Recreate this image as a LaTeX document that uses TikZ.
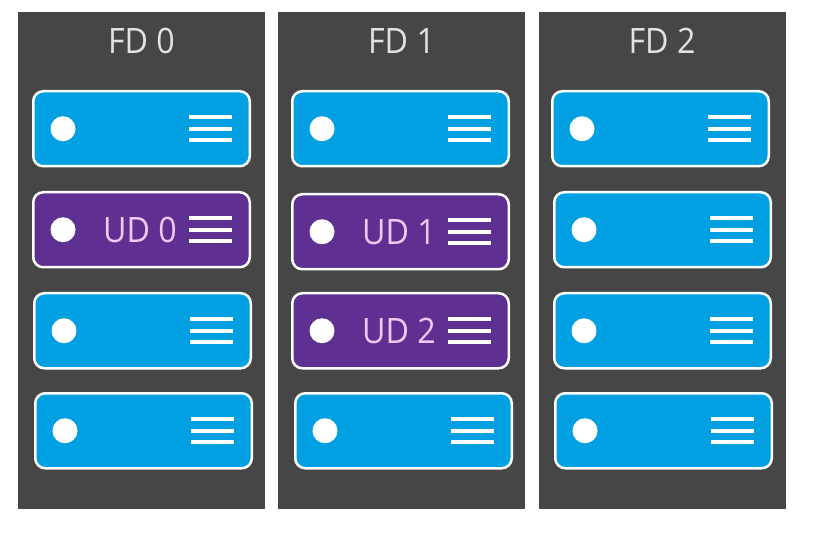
\documentclass[tikz,border=0pt]{standalone}
\usepackage{fontspec}
\setmainfont{Open Sans}
\newfontfamily\fdfont[FakeStretch=0.92]{Open Sans}
\usepackage{tikz}
\usetikzlibrary{positioning}

\definecolor{rackgray}{RGB}{70,70,70}
\definecolor{srvblue}{RGB}{0,160,226}
\definecolor{srvpurple}{RGB}{93,48,145}
\definecolor{udpink}{RGB}{240,200,240}
\definecolor{fdgray}{RGB}{226,226,226}

\tikzset{
  rack/.style={fill=rackgray, minimum width=247pt, minimum height=497pt, inner sep=0pt},
  fdtitle/.style={text=fdgray, inner sep=0pt, font=\fdfont\fontsize{35}{35}\selectfont},
  srvbox/.style={draw=white, line width=2.5pt, rounded corners=10pt, fill=#1,
    minimum width=216.5pt, minimum height=75pt, inner sep=0pt, anchor=north west},
  led/.style={circle, fill=white, minimum size=25pt, inner sep=0pt},
  bars/.style={draw=white, line width=4pt},
  udlabel/.style={text=udpink, inner sep=0pt, font=\fdfont\fontsize{35}{35}\selectfont}
}

% one server: name, x, y (top left), fill, label
\newcommand{\srv}[5]{%
  \node[srvbox=#4] (#1) at (#2,#3) {};
  \node[led] (#1-led) at ([xshift=31pt]#1.west) {};
  \node[udlabel] (#1-ud) at ([xshift=108pt]#1.west) {#5};
  \foreach \dy in {12,0,-11}
    \draw[bars] ([xshift=157pt,yshift=\dy pt]#1.west) -- ++(43pt,0);
}

\begin{document}
\begin{tikzpicture}[x=1pt,y=-1pt]
  \useasboundingbox (0,0) rectangle (813,534);

  \node[rack] (fd0) at (141.5,260.5) {};
  \node[rack] (fd1) at (401.5,260.5) {};
  \node[rack] (fd2) at (662,260.5) {};

  \node[fdtitle] (t0) at (141.5,41) {FD 0};
  \node[fdtitle] (t1) at (401.5,41) {FD 1};
  \node[fdtitle] (t2) at (662,41) {FD 2};

  % fault domain 0
  \srv{s00}{32}{90}{srvblue}{}
  \srv{s01}{32}{191}{srvpurple}{UD 0}
  \srv{s02}{33}{292}{srvblue}{}
  \srv{s03}{34}{392}{srvblue}{}

  % fault domain 1
  \srv{s10}{291}{90}{srvblue}{}
  \srv{s11}{291}{193}{srvpurple}{UD 1}
  \srv{s12}{291}{292}{srvpurple}{UD 2}
  \srv{s13}{294}{392}{srvblue}{}

  % fault domain 2
  \srv{s20}{551}{90}{srvblue}{}
  \srv{s21}{553}{191}{srvblue}{}
  \srv{s22}{553}{292}{srvblue}{}
  \srv{s23}{554}{392}{srvblue}{}
\end{tikzpicture}
\end{document}
